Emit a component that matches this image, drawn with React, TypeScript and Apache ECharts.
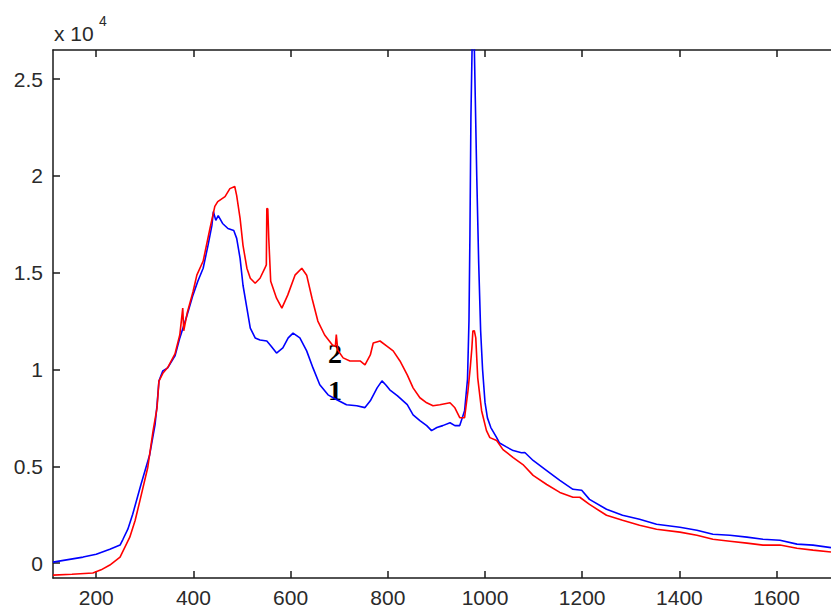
import React, { useEffect, useRef } from "react";
import * as echarts from "echarts";

// Series 1 (blue)
const blueX = [111, 173, 200, 228, 249, 255, 265, 275, 292, 310, 321, 325, 329, 337, 347, 362, 372, 387, 399, 409, 420, 430, 438, 441, 446, 451, 460, 471, 483, 489, 496, 502, 510, 517, 527, 537, 551, 560, 571, 584, 595, 605, 619, 633, 646, 660, 677, 695, 715, 736, 753, 764, 778, 788, 796, 804, 820, 840, 852, 866, 880, 890, 901, 913, 928, 938, 948, 958, 964, 967, 969, 971, 974, 977, 980, 983, 987, 991, 995, 1000, 1005, 1012, 1024, 1030, 1044, 1058, 1075, 1082, 1099, 1127, 1154, 1181, 1199, 1215, 1250, 1283, 1318, 1353, 1401, 1436, 1469, 1504, 1539, 1572, 1607, 1642, 1675, 1712];
const blueY = [50, 310, 460, 720, 930, 1230, 1750, 2520, 4060, 5600, 7150, 8130, 9400, 9930, 10080, 10700, 11630, 12810, 13840, 14560, 15230, 16410, 17440, 18160, 17700, 17950, 17540, 17280, 17180, 16770, 15740, 14350, 13170, 12140, 11630, 11520, 11470, 11200, 10850, 11110, 11630, 11880, 11630, 10960, 10080, 9210, 8690, 8440, 8180, 8130, 8030, 8380, 9050, 9410, 9200, 8950, 8640, 8180, 7660, 7360, 7100, 6840, 7000, 7100, 7250, 7100, 7100, 7870, 9500, 12500, 17000, 23000, 27500, 28000, 24000, 20000, 15500, 12000, 10000, 8300, 7500, 7000, 6480, 6200, 6000, 5810, 5700, 5710, 5300, 4780, 4270, 3810, 3760, 3290, 2780, 2470, 2260, 2010, 1850, 1700, 1490, 1440, 1340, 1230, 1180, 980, 930, 800];

// Series 2 (red)
const redX = [111, 150, 193, 210, 228, 249, 269, 280, 290, 306, 317, 325, 329, 337, 347, 362, 372, 378, 380, 387, 399, 407, 420, 434, 444, 450, 465, 475, 485, 489, 496, 502, 510, 517, 527, 537, 547, 550, 551, 553, 555, 559, 571, 582, 594, 609, 623, 633, 644, 656, 670, 686, 692, 694, 697, 708, 722, 743, 753, 764, 770, 784, 798, 811, 825, 840, 852, 866, 880, 893, 907, 928, 938, 948, 958, 965, 970, 973, 975, 978, 981, 985, 993, 1003, 1010, 1024, 1037, 1058, 1078, 1099, 1127, 1154, 1181, 1195, 1215, 1250, 1283, 1318, 1353, 1401, 1436, 1469, 1504, 1539, 1572, 1607, 1642, 1675, 1712];
const redY = [-620, -580, -510, -350, -100, 310, 1340, 2200, 3240, 4940, 6840, 8000, 9400, 9800, 10100, 10800, 11800, 13170, 12000, 12900, 14000, 14870, 15600, 17280, 18420, 18670, 18930, 19340, 19450, 18980, 17800, 16410, 15230, 14710, 14450, 14710, 15230, 15400, 18310, 18300, 16770, 14560, 13680, 13170, 13840, 14870, 15230, 14870, 13680, 12500, 11780, 11270, 11200, 11800, 11000, 10600, 10440, 10440, 10240, 10750, 11370, 11470, 11210, 10960, 10440, 9720, 9050, 8540, 8280, 8130, 8180, 8280, 8020, 7510, 7510, 8900, 10200, 11110, 11980, 12000, 11630, 9570, 7870, 6840, 6480, 6330, 5860, 5450, 5090, 4530, 4060, 3650, 3400, 3400, 3030, 2470, 2210, 1950, 1750, 1600, 1440, 1230, 1130, 1030, 930, 930, 770, 670, 570];

const xTicks = [200, 400, 600, 800, 1000, 1200, 1400, 1600];
const yTicks = [0, 5000, 10000, 15000, 20000, 25000];
const curveLabels = ["1", "2"];

const X_MIN = 111;
const X_MAX = 1712;
const Y_MIN = -770;
const Y_MAX = 26500;

export default function App() {
  const ref = useRef<HTMLDivElement>(null);
  useEffect(() => {
    if (!ref.current) return;
    const chart = echarts.init(ref.current, null, { renderer: "svg" });
    const axisColor = "#1a1a1a";
    const labelFont = { fontFamily: "Liberation Sans, Arial, sans-serif", fontSize: 21, color: "#2a2a2a" };
    chart.setOption({
      animation: false,
      backgroundColor: "#ffffff",
      grid: { left: 53, top: 50, right: -4, bottom: 27, containLabel: false },
      xAxis: [
        {
          type: "value",
          position: "bottom",
          min: X_MIN,
          max: X_MAX,
          axisLine: { show: true, onZero: false, lineStyle: { color: axisColor, width: 1.5 } },
          axisTick: { show: true, inside: true, length: 7, customValues: xTicks, lineStyle: { color: axisColor, width: 1.5 } },
          axisLabel: { show: true, customValues: xTicks, margin: 9, formatter: (v: number) => String(v), ...labelFont },
          splitLine: { show: false },
        },
        {
          type: "value",
          position: "top",
          min: X_MIN,
          max: X_MAX,
          axisLine: { show: true, onZero: false, lineStyle: { color: axisColor, width: 1.5 } },
          axisTick: { show: true, inside: true, length: 7, customValues: xTicks, lineStyle: { color: axisColor, width: 1.5 } },
          axisLabel: { show: false },
          splitLine: { show: false },
        },
      ],
      yAxis: [
        {
          type: "value",
          position: "left",
          min: Y_MIN,
          max: Y_MAX,
          axisLine: { show: true, onZero: false, lineStyle: { color: axisColor, width: 1.5 } },
          axisTick: { show: true, inside: true, length: 7, customValues: yTicks, lineStyle: { color: axisColor, width: 1.5 } },
          axisLabel: {
            show: true,
            customValues: yTicks,
            margin: 10,
            formatter: (v: number) => String(v / 10000),
            ...labelFont,
          },
          splitLine: { show: false },
        },
      ],
      series: [
        {
          name: "1",
          type: "line",
          xAxisIndex: 0,
          yAxisIndex: 0,
          data: blueX.map((x, i) => [x, blueY[i]]),
          symbol: "none",
          clip: true,
          lineStyle: { color: "#0000ff", width: 1.6 },
          z: 2,
        },
        {
          name: "2",
          type: "line",
          xAxisIndex: 0,
          yAxisIndex: 0,
          data: redX.map((x, i) => [x, redY[i]]),
          symbol: "none",
          clip: true,
          lineStyle: { color: "#ff0000", width: 1.6 },
          z: 3,
        },
      ],
      graphic: [
        {
          type: "text",
          left: 54,
          top: 23,
          style: { text: "x 10", font: "21px 'Liberation Sans', Arial, sans-serif", fill: "#2a2a2a" },
        },
        {
          type: "text",
          left: 99,
          top: 14,
          style: { text: "4", font: "14px 'Liberation Sans', Arial, sans-serif", fill: "#2a2a2a" },
        },
        {
          type: "text",
          x: 335,
          y: 353,
          style: { text: curveLabels[1], font: "bold 28px 'Liberation Serif', 'Times New Roman', serif", fill: "#000", textAlign: "center", textVerticalAlign: "middle" },
        },
        {
          type: "text",
          x: 335,
          y: 390,
          style: { text: curveLabels[0], font: "bold 28px 'Liberation Serif', 'Times New Roman', serif", fill: "#000", textAlign: "center", textVerticalAlign: "middle" },
        },
      ],
    });
    return () => chart.dispose();
  }, []);
  return <div ref={ref} style={{ position: "fixed", left: 0, top: 0, width: 831, height: 608 }} />;
}
